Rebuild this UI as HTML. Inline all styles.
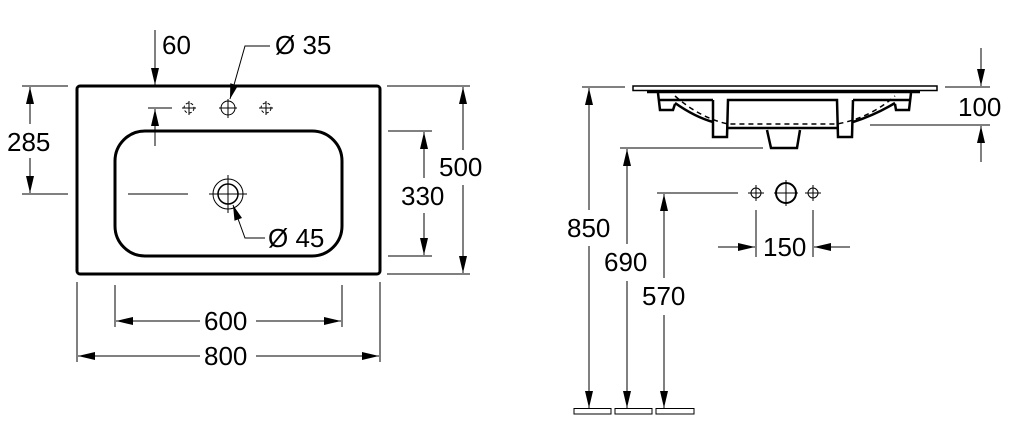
<!DOCTYPE html>
<html><head><meta charset="utf-8"><style>
html,body{margin:0;padding:0;background:#fff;}
svg{display:block;}
text{font-family:"Liberation Sans",Arial,sans-serif;font-size:26px;fill:#000;}
</style></head><body>
<svg width="1019" height="445" viewBox="0 0 1019 445" xmlns="http://www.w3.org/2000/svg">
<g fill="none" stroke="#000" stroke-width="1">
<rect x="77" y="86" width="303" height="188" rx="3" stroke-width="3"/>
<rect x="115" y="131" width="227" height="125" rx="30" stroke-width="3"/>
<line x1="22" y1="86" x2="68" y2="86"/><line x1="22" y1="194" x2="68" y2="194"/>
<line x1="30" y1="87" x2="30" y2="124"/>
<line x1="30" y1="158" x2="30" y2="193"/>
<line x1="387" y1="86" x2="470" y2="86"/><line x1="387" y1="274" x2="470" y2="274"/>
<line x1="463" y1="87" x2="463" y2="150"/>
<line x1="463" y1="185" x2="463" y2="273"/>
<line x1="388" y1="131" x2="432" y2="131"/><line x1="388" y1="256" x2="432" y2="256"/>
<line x1="424" y1="132" x2="424" y2="178"/>
<line x1="424" y1="213" x2="424" y2="255"/>
<line x1="77" y1="282" x2="77" y2="362"/><line x1="380" y1="282" x2="380" y2="362"/>
<line x1="115" y1="285" x2="115" y2="327"/><line x1="342" y1="285" x2="342" y2="327"/>
<line x1="78" y1="356" x2="200" y2="356"/>
<line x1="256" y1="356" x2="379" y2="356"/>
<line x1="116" y1="321" x2="200" y2="321"/>
<line x1="256" y1="321" x2="341" y2="321"/>
<line x1="155" y1="30" x2="155" y2="85"/>
<line x1="148" y1="108" x2="172" y2="108"/>
<line x1="155" y1="146" x2="155" y2="109"/>
<circle cx="228" cy="108" r="7"/><line x1="219" y1="108" x2="237" y2="108"/><line x1="228" y1="99" x2="228" y2="118"/>
<g stroke-dasharray="3,2"><circle cx="189" cy="108" r="5"/><circle cx="266" cy="108" r="5"/></g>
<line x1="182" y1="108" x2="196" y2="108"/><line x1="189" y1="101" x2="189" y2="115"/>
<line x1="259" y1="108" x2="273" y2="108"/><line x1="266" y1="101" x2="266" y2="115"/>
<polyline points="270,46 245,46 230,99"/>
<circle cx="228" cy="194" r="15"/><circle cx="228" cy="194" r="10" stroke-width="1.5"/>
<line x1="209" y1="194" x2="247" y2="194"/><line x1="228" y1="175" x2="228" y2="213"/>
<line x1="128" y1="194" x2="188" y2="194"/>
<polyline points="265,238 245,238 233,205"/>
<rect x="633" y="86" width="304" height="4.5" stroke-width="1.5"/>
<line x1="647" y1="92" x2="920" y2="92" stroke-width="2.5"/>
<path d="M658,93 L660,110 L673,110 L675,104 M675,103 Q695,117 713,122 M713,100 L713,137 L727,137 L728,100 L837,100 L838,137 L852,137 L853,100 M853,122 Q875,115 895,103 M895,104 L896,110 L909,110 L911,93" stroke-width="2.5"/>
<path d="M660,100 L713,100 M853,100 L909,100" stroke-width="2.5"/>
<line x1="728" y1="128" x2="837" y2="128" stroke-width="2.5"/>
<path d="M675,96 Q700,118 728,124 L837,124 Q870,118 895,96" stroke-dasharray="5,4" stroke-width="1.5"/>
<path d="M767,130 L771,148 L797,148 L800,130" stroke-width="2.5"/>
<line x1="582" y1="87" x2="625" y2="87"/>
<line x1="620" y1="148" x2="763" y2="148"/>
<line x1="657" y1="193" x2="738" y2="193"/>
<line x1="589" y1="88" x2="589" y2="210"/>
<line x1="589" y1="246" x2="589" y2="408"/>
<line x1="627" y1="149" x2="627" y2="244"/>
<line x1="627" y1="281" x2="627" y2="408"/>
<line x1="664" y1="194" x2="664" y2="278"/>
<line x1="664" y1="315" x2="664" y2="408"/>
<rect x="574" y="408.5" width="37" height="5.5"/><rect x="615" y="408.5" width="37" height="5.5"/><rect x="656" y="408.5" width="38" height="5.5"/>
<line x1="945" y1="87" x2="990" y2="87"/><line x1="870" y1="125" x2="990" y2="125"/>
<line x1="981" y1="48" x2="981" y2="86"/>
<line x1="981" y1="162" x2="981" y2="126"/>
<circle cx="756" cy="193" r="5"/><circle cx="786" cy="193" r="10" stroke-width="2"/><circle cx="813" cy="193" r="5"/>
<line x1="748" y1="193" x2="764" y2="193"/><line x1="756" y1="185" x2="756" y2="201"/>
<line x1="805" y1="193" x2="821" y2="193"/><line x1="813" y1="185" x2="813" y2="201"/>
<line x1="774" y1="193" x2="798" y2="193"/><line x1="786" y1="180" x2="786" y2="206"/>
<line x1="756" y1="210" x2="756" y2="257"/><line x1="813" y1="210" x2="813" y2="257"/>
<line x1="718" y1="247" x2="755" y2="247"/>
<line x1="850" y1="247" x2="814" y2="247"/>
</g>
<g fill="#000" stroke="none">
<polygon points="26,104 34,104 30,87"/>
<polygon points="26,176 34,176 30,193"/>
<polygon points="459,104 467,104 463,87"/>
<polygon points="459,256 467,256 463,273"/>
<polygon points="420,149 428,149 424,132"/>
<polygon points="420,238 428,238 424,255"/>
<polygon points="95,352 95,360 78,356"/>
<polygon points="362,352 362,360 379,356"/>
<polygon points="133,317 133,325 116,321"/>
<polygon points="324,317 324,325 341,321"/>
<polygon points="151,68 159,68 155,85"/>
<polygon points="151,126 159,126 155,109"/>
<polygon points="238,85.6 230.3,83.3 230,99"/>
<polygon points="242,218 234.5,220.7 233,205"/>
<polygon points="585,105 593,105 589,88"/>
<polygon points="585,391 593,391 589,408"/>
<polygon points="623,166 631,166 627,149"/>
<polygon points="623,391 631,391 627,408"/>
<polygon points="660,211 668,211 664,194"/>
<polygon points="660,391 668,391 664,408"/>
<polygon points="977,69 985,69 981,86"/>
<polygon points="977,143 985,143 981,126"/>
<polygon points="738,243 738,251 755,247"/>
<polygon points="831,243 831,251 814,247"/>
</g>
<text x="7" y="151">285</text>
<text x="439" y="176">500</text>
<text x="401" y="205">330</text>
<text x="204" y="365">800</text>
<text x="204" y="330">600</text>
<text x="162" y="54">60</text>
<text x="275" y="54">Ø 35</text>
<text x="268" y="247">Ø 45</text>
<text x="567" y="237">850</text>
<text x="604" y="271">690</text>
<text x="642" y="305">570</text>
<text x="958" y="116">100</text>
<text x="763" y="256">150</text>
</svg>
</body></html>
